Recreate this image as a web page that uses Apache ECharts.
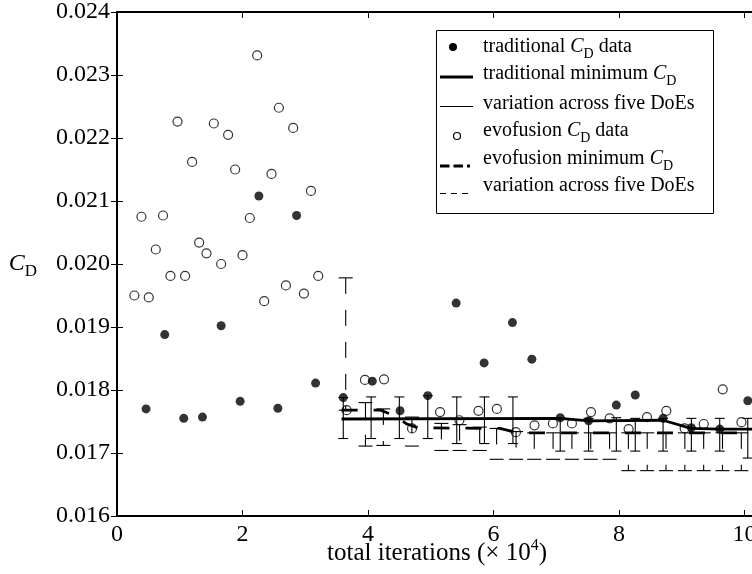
<!DOCTYPE html>
<html><head><meta charset="utf-8">
<script src="https://cdn.jsdelivr.net/npm/echarts@6/dist/echarts.min.js"></script>
<style>html,body{margin:0;padding:0;background:#fff}#c{width:752px;height:574px}</style>
</head><body><div id="c"></div>
<script>
// ---- data (x in units of 10^4 iterations) ----
const tradData = [[0.463,0.01770],[0.761,0.01888],[1.064,0.01755],[1.362,0.01757],[1.660,0.01902],[1.963,0.01782],[2.261,0.02108],[2.564,0.01771],[2.862,0.02077],[3.165,0.01811],[3.606,0.01788],[4.069,0.01814],[4.511,0.01767],[4.953,0.01791],[5.405,0.01938],[5.851,0.01843],[6.303,0.01907],[6.612,0.01849],[7.064,0.01756],[7.516,0.01751],[7.958,0.01776],[8.260,0.01792],[8.703,0.01755],[9.154,0.01740],[9.606,0.01738],[10.053,0.01783]];
const evoData = [[0.277,0.01950],[0.389,0.02075],[0.506,0.01947],[0.618,0.02023],[0.734,0.02077],[0.852,0.01981],[0.964,0.02226],[1.085,0.01981],[1.197,0.02162],[1.309,0.02034],[1.426,0.02017],[1.543,0.02223],[1.660,0.02000],[1.771,0.02205],[1.883,0.02150],[2.000,0.02014],[2.117,0.02073],[2.234,0.02331],[2.346,0.01941],[2.463,0.02143],[2.580,0.02248],[2.692,0.01966],[2.808,0.02216],[2.979,0.01953],[3.091,0.02116],[3.207,0.01981],[3.660,0.01768],[3.952,0.01816],[4.256,0.01817],[4.702,0.01739],[5.149,0.01765],[5.457,0.01752],[5.761,0.01767],[6.054,0.01770],[6.357,0.01733],[6.654,0.01744],[6.947,0.01747],[7.250,0.01747],[7.554,0.01765],[7.851,0.01755],[8.154,0.01738],[8.447,0.01757],[8.755,0.01767],[9.047,0.01739],[9.351,0.01746],[9.654,0.01801],[9.952,0.01749]];
const tradMin = [[3.58,0.01754],[7.06,0.01755],[7.52,0.01751],[8.70,0.01752],[9.15,0.01739],[9.61,0.01738],[10.2,0.01738]];
const evoMin = [[3.58,0.01768],[4.20,0.01768],[4.40,0.01760],[4.62,0.01746],[4.80,0.01740],[6.10,0.01739],[6.40,0.01732],[10.2,0.01732]];
// [x, low, high]
const tradBars = [[3.606,0.01723,0.01788],[4.050,0.01723,0.01789],[4.500,0.01723,0.01789],[4.953,0.01723,0.01791],[5.415,0.01715,0.01789],[5.856,0.01715,0.01789],[6.310,0.01715,0.01789],[7.064,0.01703,0.01756],[7.516,0.01703,0.01755],[7.958,0.01703,0.01756],[8.260,0.01703,0.01755],[8.703,0.01703,0.01755],[9.154,0.01703,0.01755],[9.606,0.01703,0.01755],[10.053,0.01692,0.01755]];
const evoBars = [[3.645,0.01768,0.01978],[3.960,0.01711,0.01780],[4.245,0.01712,0.01770],[4.700,0.01711,0.01757],[5.170,0.01704,0.01747],[5.460,0.01704,0.01745],[5.780,0.01704,0.01741],[6.050,0.01690,0.01739],[6.360,0.01690,0.01734],[6.650,0.01690,0.01732],[6.950,0.01690,0.01732],[7.250,0.01690,0.01732],[7.550,0.01690,0.01732],[7.850,0.01690,0.01732],[8.150,0.01672,0.01732],[8.450,0.01672,0.01732],[8.750,0.01672,0.01732],[9.050,0.01672,0.01732],[9.350,0.01672,0.01732],[9.650,0.01672,0.01732],[9.950,0.01672,0.01732]];
const xMin = 0, xMax = 10.2, xStep = 2;
const yMin = 0.016, yMax = 0.024, yStep = 0.001;

const F = 'Liberation Serif';
const chart = echarts.init(document.getElementById('c'), null, {renderer:'canvas'});

function barRender(capW, dash){
  return function(params, api){
    const x = api.value(0), lo = api.value(1), hi = api.value(2);
    const a = api.coord([x, hi]), b = api.coord([x, lo]);
    const h = capW/2;
    return {type:'group', children:[
      {type:'line', shape:{x1:a[0],y1:a[1],x2:b[0],y2:b[1]}, style:{stroke:'#000',lineWidth:1.1,lineDash:dash}},
      {type:'line', shape:{x1:a[0]-h,y1:a[1],x2:a[0]+h,y2:a[1]}, style:{stroke:'#000',lineWidth:1.1}},
      {type:'line', shape:{x1:b[0]-h,y1:b[1],x2:b[0]+h,y2:b[1]}, style:{stroke:'#000',lineWidth:1.1}}
    ]};
  };
}

const axLine = {show:true, lineStyle:{color:'#000', width:2}};
const axTick = {show:true, inside:true, length:6, lineStyle:{color:'#000', width:1}};

const legendRows = [
  {y:47, text:'{n|traditional }{i|C}{s|D}{n| data}'},
  {y:74, text:'{n|traditional minimum }{i|C}{s|D}'},
  {y:104, text:'{n|variation across five DoEs}'},
  {y:131, text:'{n|evofusion }{i|C}{s|D}{n| data}'},
  {y:159, text:'{n|evofusion minimum }{i|C}{s|D}'},
  {y:186, text:'{n|variation across five DoEs}'}
];
const legRich = {
  n:{fontFamily:F, fontSize:20, lineHeight:28, fill:'#000'},
  i:{fontFamily:F, fontSize:20, lineHeight:28, fontStyle:'italic', fill:'#000'},
  s:{fontFamily:F, fontSize:14, lineHeight:14, verticalAlign:'bottom', fill:'#000'}
};
const graphics = [
  {type:'rect', shape:{x:436.5,y:30.5,width:277,height:183}, style:{fill:'#fff',stroke:'#000',lineWidth:1}, z:100},
  {type:'circle', shape:{cx:453, cy:47, r:4}, style:{fill:'#000'}, z:101},
  {type:'line', shape:{x1:440,y1:77,x2:473,y2:77}, style:{stroke:'#000',lineWidth:3}, z:101},
  {type:'line', shape:{x1:440,y1:106.5,x2:473,y2:106.5}, style:{stroke:'#000',lineWidth:1}, z:101},
  {type:'circle', shape:{cx:457, cy:136, r:3.5}, style:{fill:'none',stroke:'#000',lineWidth:1.2}, z:101},
  {type:'line', shape:{x1:440,y1:166,x2:470,y2:166}, style:{stroke:'#000',lineWidth:3,lineDash:[9.5,4]}, z:101},
  {type:'line', shape:{x1:440,y1:193.5,x2:473,y2:193.5}, style:{stroke:'#000',lineWidth:1,lineDash:[6,5]}, z:101}
];
legendRows.forEach(r => graphics.push({type:'text', x:483, y:r.y, z:101,
  style:{text:r.text, align:'left', verticalAlign:'middle', rich:legRich, fontFamily:F, fontSize:20, fill:'#000'}}));

const option = {
  animation:false,
  backgroundColor:'#fff',
  grid:{left:117, top:12, width:640, height:504, outerBoundsMode:'none', containLabel:false},
  xAxis:[
    {type:'value', min:xMin, max:xMax, interval:xStep, position:'bottom', axisLine:axLine, axisTick:axTick, splitLine:{show:false},
     axisLabel:{color:'#000', fontFamily:F, fontSize:24, margin:7, formatter:v => (Math.abs(v-Math.round(v))<1e-6 ? String(Math.round(v)) : '')},
     name:'{n|total iterations (× 10}{p|4}{n|)}', nameLocation:'middle', nameGap:22, nameMoveOverlap:false,
     nameTextStyle:{rich:{n:{fontFamily:F, fontSize:25, lineHeight:30, color:'#000'}, p:{fontFamily:F, fontSize:16, lineHeight:16, verticalAlign:'top', color:'#000'}}}},
    {type:'value', min:xMin, max:xMax, interval:xStep, position:'top', axisLine:axLine, axisTick:axTick, splitLine:{show:false}, axisLabel:{show:false}}
  ],
  yAxis:[
    {type:'value', min:yMin, max:yMax, interval:yStep, position:'left', axisLine:axLine, axisTick:axTick, splitLine:{show:false},
     axisLabel:{color:'#000', fontFamily:F, fontSize:24, margin:7, formatter:v => v.toFixed(3)},
     name:'{i|C}{s|D}', nameLocation:'middle', nameRotate:0, nameGap:80, nameMoveOverlap:false,
     nameTextStyle:{rich:{i:{fontFamily:F, fontSize:24, lineHeight:32, fontStyle:'italic', color:'#000'}, s:{fontFamily:F, fontSize:17, lineHeight:17, verticalAlign:'bottom', color:'#000'}}}},
    {type:'value', min:yMin, max:yMax, interval:yStep, position:'right', axisLine:axLine, axisTick:axTick, splitLine:{show:false}, axisLabel:{show:false}}
  ],
  graphic:{elements:graphics},
  series:[
    {type:'custom', name:'variation across five DoEs (traditional)', data:tradBars, encode:{x:0, y:[1,2]}, renderItem:barRender(10, null), z:2},
    {type:'custom', name:'variation across five DoEs (evofusion)', data:evoBars, encode:{x:0, y:[1,2]}, renderItem:barRender(14, [16,16]), z:2},
    {type:'line', name:'traditional minimum CD', data:tradMin, symbol:'none', showSymbol:false, lineStyle:{color:'#000', width:2.8}, z:3},
    {type:'line', name:'evofusion minimum CD', data:evoMin, symbol:'none', showSymbol:false, lineStyle:{color:'#000', width:2.8, type:[16,16]}, z:3},
    {type:'scatter', name:'traditional CD data', data:tradData, symbol:'circle', symbolSize:9, itemStyle:{color:'#000'}, z:4},
    {type:'scatter', name:'evofusion CD data', data:evoData, symbol:'circle', symbolSize:9, itemStyle:{color:'rgba(0,0,0,0)', borderColor:'#000', borderWidth:1.2}, z:4}
  ]
};
chart.setOption(option);
</script></body></html>
